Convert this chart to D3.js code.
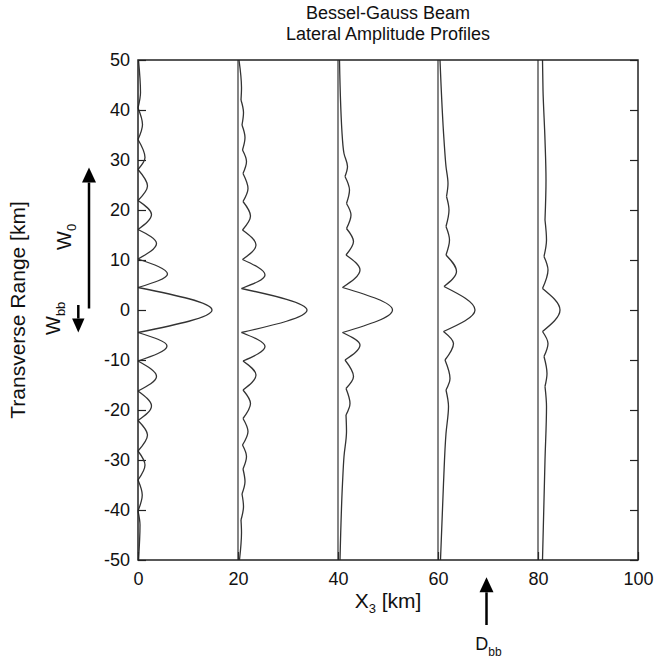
<!DOCTYPE html>
<meta charset="utf-8">
<style>

body {
  margin: 0;
  background: #fff;
}

text {
  font-family: "Liberation Sans", Arial, sans-serif;
  fill: #111;
}

.frame {
  fill: none;
  stroke: #222;
  stroke-width: 1.5px;
}

.base {
  stroke: #333;
  stroke-width: 1.2px;
}

.profile {
  fill: none;
  stroke: #333;
  stroke-width: 1.3px;
}

.arrow {
  stroke: #000;
  stroke-width: 2.5px;
}

</style>
<svg width="658" height="662"></svg>
<script src="https://cdn.jsdelivr.net/npm/d3@7"></script>
<script>

// where each profile's baseline sits along X3 [km]
var offsets = [0, 20, 40, 60, 80];

// [transverse range km, amplitude above baseline]
var profile0 = [
  [-50, 0.1], [-43, 0.4], [-40.2, 0], [-37, 0.85], [-34, 0], [-31, 1.4],
  [-28.2, 0], [-25, 1.9], [-22.1, 0], [-19.2, 2.7], [-16.2, 0], [-13.3, 3.7],
  [-10.2, 0], [-7.2, 5.8], [-4.5, 0], [0, 14.8], [4.5, 0], [7.2, 5.9],
  [10.2, 0], [13.3, 3.7], [16.1, 0], [19.1, 2.7], [21.9, 0], [24.8, 1.9],
  [28.1, 0], [30.5, 1.4], [34.1, 0], [37.1, 0.9], [40.4, 0], [43.5, 0.5],
  [50, 0.1]
];

var profile20 = [
  [-50, 0.3], [-44.5, 0.7], [-42, 0.6], [-39.3, 1.1], [-36.8, 0.8], [-34.3, 1.4],
  [-31.8, 1.0], [-29.3, 1.7], [-27, 0.9], [-24.3, 2.0], [-21.7, 1.0], [-18.7, 2.5],
  [-16, 1.0], [-13, 3.6], [-10.2, 1.0], [-7.3, 5.4], [-4.5, 0.7], [0, 13.8],
  [4.3, 0.7], [7, 5.4], [10.1, 0.9], [13, 3.6], [16, 0.9], [18.8, 2.5],
  [21.7, 1.0], [24.3, 2.0], [27.3, 1.0], [29.7, 1.7], [32, 0.9], [34.5, 1.4],
  [37, 0.8], [39.5, 1.1], [42, 0.6], [44.5, 0.7], [50, 0.2]
];

var profile40 = [
  [-50, 0.4], [-34.7, 0.9], [-29.3, 1.2], [-24.3, 1.7], [-21, 1.6], [-18.7, 2.4],
  [-15.7, 1.6], [-13.3, 3.1], [-10, 1.4], [-7, 4.4], [-4.5, 0.9], [0, 10.9],
  [4.5, 0.9], [8, 4.4], [11, 1.6], [13.7, 3.1], [16.3, 1.7], [19, 2.6],
  [21.3, 1.7], [24, 2.3], [26.7, 1.4], [28.7, 1.9], [31.3, 1.2], [34, 0.9],
  [50, 0.3]
];

var profile60 = [
  [-50, 0.5], [-34.7, 1.1], [-24.7, 1.6], [-19.3, 2.1], [-16, 1.6], [-13.7, 2.4],
  [-10, 1.4], [-6.7, 3.1], [-4.3, 1.1], [0, 7.4], [4.7, 1.2], [7.7, 3.7],
  [11, 1.6], [14, 2.3], [16.7, 1.6], [20, 2.2], [22.7, 1.7], [25.3, 2.0],
  [28.7, 1.6], [34, 1.2], [50, 0.4]
];

var profile80 = [
  [-50, 0.9], [-30, 1.4], [-19.3, 1.7], [-15.3, 1.4], [-12.7, 1.8], [-9.3, 1.2],
  [-6.7, 2.0], [-4.3, 0.9], [0, 4.4], [4.3, 0.9], [8, 2.0], [10.7, 1.2],
  [14, 1.7], [18, 1.4], [26, 1.6], [34, 1.4], [44, 1.0], [50, 0.9]
];

var profiles = [profile0, profile20, profile40, profile60, profile80];

var xTicks = [0, 20, 40, 60, 80, 100];
var yTicks = [-50, -40, -30, -20, -10, 0, 10, 20, 30, 40, 50];

// annotation values [km]
var w0 = 28.5,
    w0Start = 0.3,
    wbb = -4.5,
    wbbStart = 1,
    dbb = 69.7;

var svg = d3.select("svg"),
    margin = {top: 60, right: 20, bottom: 102, left: 138},
    width = +svg.attr("width") - margin.left - margin.right,
    height = +svg.attr("height") - margin.top - margin.bottom;

var x = d3.scaleLinear().domain([0, 100]).range([0, width]);
var y = d3.scaleLinear().domain([-50, 50]).range([height, 0]);

var g = svg.append("g")
    .attr("transform", "translate(" + margin.left + "," + margin.top + ")");

// plain hyphen for negatives, as in the original
var fmt = function(d) { return String(d); };

// axes with inward ticks
var yAxis = g.append("g")
    .call(d3.axisLeft(y).tickValues(yTicks).tickSize(-8).tickPadding(8).tickFormat(fmt));
var yAxisR = g.append("g")
    .attr("transform", "translate(" + width + ",0)")
    .call(d3.axisRight(y).tickValues(yTicks).tickSize(-8).tickFormat(""));
var xAxis = g.append("g")
    .attr("transform", "translate(0," + height + ")")
    .call(d3.axisBottom(x).tickValues(xTicks).tickSize(-8).tickPadding(12).tickFormat(fmt));

[yAxis, yAxisR, xAxis].forEach(function(a) {
  a.attr("font-size", 18).attr("font-family", null);
  a.select(".domain").remove();
  a.selectAll(".tick line").attr("stroke", "#222").attr("stroke-width", 1.2);
  a.selectAll(".tick text").attr("fill", "#111");
});

// baselines of the profiles
g.selectAll(".base")
    .data(offsets.filter(function(d) { return d > 0; }))
  .enter().append("line")
    .attr("class", "base")
    .attr("x1", function(d) { return x(d); })
    .attr("x2", function(d) { return x(d); })
    .attr("y1", y(-50))
    .attr("y2", y(50));

// split a profile at its troughs so that nulls stay pointed
function segments(pts) {
  pts = pts.slice().sort(function(a, b) { return b[0] - a[0]; });
  var segs = [], cur = [pts[0]];
  for (var i = 1; i < pts.length; i++) {
    cur.push(pts[i]);
    if (i < pts.length - 1 && pts[i][1] < pts[i - 1][1] && pts[i][1] < pts[i + 1][1]) {
      segs.push(cur);
      cur = [pts[i]];
    }
  }
  segs.push(cur);
  return segs;
}

profiles.forEach(function(p, i) {
  var off = offsets[i];
  var line = d3.line()
      .x(function(d) { return x(off + d[1]); })
      .y(function(d) { return y(d[0]); })
      .curve(d3.curveMonotoneY);
  g.selectAll(".p" + i)
      .data(segments(p))
    .enter().append("path")
      .attr("class", "profile p" + i)
      .attr("d", line);
});

g.append("rect")
    .attr("class", "frame")
    .attr("width", width)
    .attr("height", height);

// arrows
function arrow(ax, y1, y2, len, half) {
  var dir = y2 < y1 ? 1 : -1;
  svg.append("line")
      .attr("class", "arrow")
      .attr("x1", ax).attr("x2", ax)
      .attr("y1", y1).attr("y2", y2 + dir * len);
  svg.append("path")
      .attr("fill", "#000")
      .attr("d", "M" + ax + "," + y2 +
                 "L" + (ax - half) + "," + (y2 + dir * len) +
                 "L" + (ax + half) + "," + (y2 + dir * len) + "Z");
}

arrow(89, margin.top + y(w0Start), margin.top + y(w0), 15, 7);
arrow(78.3, margin.top + y(wbbStart), margin.top + y(wbb), 14, 6.2);
arrow(margin.left + x(dbb), 625, 577.3, 15, 7);

// title
svg.append("text")
    .attr("x", margin.left + width / 2)
    .attr("y", 19)
    .attr("text-anchor", "middle")
    .attr("font-size", 18)
    .text("Bessel-Gauss Beam");
svg.append("text")
    .attr("x", margin.left + width / 2)
    .attr("y", 40)
    .attr("text-anchor", "middle")
    .attr("font-size", 18)
    .text("Lateral Amplitude Profiles");

// axis titles
svg.append("text")
    .attr("transform", "translate(25," + (margin.top + height / 2) + ") rotate(-90)")
    .attr("text-anchor", "middle")
    .attr("font-size", 21)
    .text("Transverse Range [km]");

var xl = svg.append("text")
    .attr("x", margin.left + width / 2)
    .attr("y", 608)
    .attr("text-anchor", "middle")
    .attr("font-size", 21);
xl.append("tspan").text("X");
xl.append("tspan").attr("font-size", 13).attr("dy", 5).text("3");
xl.append("tspan").attr("dy", -5).text(" [km]");

// annotation labels
var w0l = svg.append("text")
    .attr("transform", "translate(71,250) rotate(-90)")
    .attr("font-size", 20);
w0l.append("tspan").text("W");
w0l.append("tspan").attr("font-size", 13).attr("dy", 5).text("0");

var wbbl = svg.append("text")
    .attr("transform", "translate(60,335) rotate(-90)")
    .attr("font-size", 20);
wbbl.append("tspan").text("W");
wbbl.append("tspan").attr("font-size", 13).attr("dy", 5).text("bb");

var dl = svg.append("text")
    .attr("x", margin.left + x(dbb) + 2)
    .attr("y", 650)
    .attr("text-anchor", "middle")
    .attr("font-size", 18);
dl.append("tspan").text("D");
dl.append("tspan").attr("font-size", 12).attr("dy", 6).text("bb");

</script>
